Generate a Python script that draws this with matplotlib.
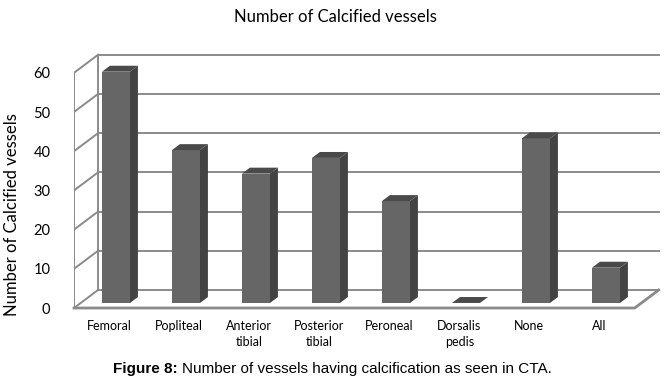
import numpy as np
import matplotlib
matplotlib.use("Agg")
import matplotlib.pyplot as plt
from matplotlib.patches import Polygon

# data
categories = ["Femoral", "Popliteal", "Anterior\ntibial", "Posterior\ntibial",
              "Peroneal", "Dorsalis\npedis", "None", "All"]
counts = [59, 39, 33, 37, 26, 0, 42, 9]
yticks = [0, 10, 20, 30, 40, 50, 60]

# fake 3D depth (data units per full depth of the box)
DX, DY = 0.343, 4.59
d_front, d_back = 0.28, 0.61      # bar front / back depth in the box
bar_w = 0.4
x_left, x_right = -0.6, 7.41
line_c = "#8a8a8a"

fig = plt.figure(figsize=(6.65, 3.82), dpi=100)
W, H = 665, 382
ax = fig.add_axes([74 / W, (H - 308) / H, (665 - 74) / W, (308 - 40) / H])
ax.set_xlim(x_left, (665 - 116) / 70)
ax.set_ylim(0, (308 - 40) / 3.92)

# walls and grid
ymax = yticks[-1]
for v in yticks:
    # back wall line
    ax.plot([x_left + DX, x_right + DX], [v + DY, v + DY], color=line_c, lw=1.4, zorder=1)
    # left wall diagonal
    ax.plot([x_left, x_left + DX], [v, v + DY], color=line_c, lw=1.4, zorder=1)
ax.plot([x_left, x_left], [0, ymax], color=line_c, lw=1.4, zorder=1)
ax.plot([x_left + DX, x_left + DX], [DY, ymax + DY], color=line_c, lw=1.4, zorder=1)
# floor front and right edges
ax.plot([x_left, x_right, x_right + DX], [0, 0, DY], color=line_c, lw=2, zorder=1,
        clip_on=False, solid_joinstyle="miter")

# bars: front face, side, top
xs = np.arange(len(counts))
base = DY * d_front
dx = DX * (d_back - d_front)
dy = DY * (d_back - d_front)
ax.bar(xs, counts, width=bar_w, bottom=base, color="#666666", zorder=3)
for x, v in zip(xs, counts):
    r = x + bar_w / 2
    l = x - bar_w / 2
    top = base + v
    if v > 0:
        ax.add_patch(Polygon([(r, base), (r + dx, base + dy), (r + dx, top + dy), (r, top)],
                             closed=True, facecolor="#434343", edgecolor="none", zorder=3))
    ax.add_patch(Polygon([(l, top), (l + dx, top + dy), (r + dx, top + dy), (r, top)],
                         closed=True, facecolor="#4a4a4a", edgecolor="none", zorder=3))

for s in ax.spines.values():
    s.set_visible(False)
ax.set_yticks(yticks)
ax.set_yticklabels([str(t) for t in yticks], fontsize=10.5, family="Lato")
ax.set_xticks(xs - DX * d_front)
ax.set_xticklabels(categories, fontsize=9, family="Lato", linespacing=1.3)
ax.tick_params(axis="y", length=0, pad=17)
ax.tick_params(axis="x", length=0, pad=9)

fig.text(335 / W, 1 - 17 / H, "Number of Calcified vessels", ha="center", va="center",
         fontsize=12, family="Lato")
fig.text(12 / W, 1 - 215 / H, "Number of Calcified vessels", ha="center", va="center",
         rotation=90, fontsize=12, family="Lato")

# caption: bold part then regular part
renderer = fig.canvas.get_renderer()
cap_bold = fig.text(113 / W, 1 - 369 / H, "Figure 8:", ha="left", va="center",
                    fontsize=11, family="Liberation Sans", weight="bold")
bb = cap_bold.get_window_extent(renderer)
fig.text(bb.x1 / W + 4 / W, 1 - 369 / H, "Number of vessels having calcification as seen in CTA.",
         ha="left", va="center", fontsize=11, family="Liberation Sans")

fig.savefig("out.png", dpi=100)
